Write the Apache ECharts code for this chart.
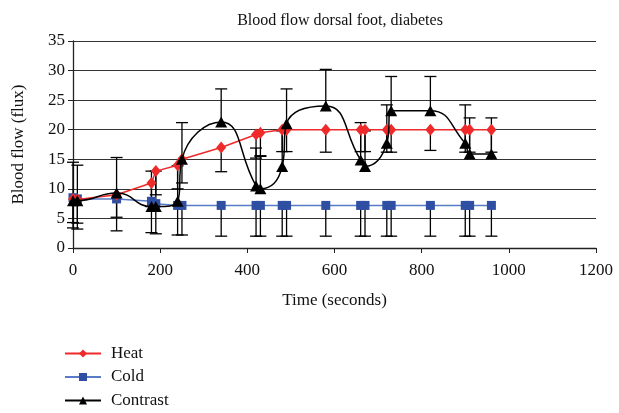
<!DOCTYPE html>
<html>
<head>
<meta charset="utf-8">
<script src="https://cdn.jsdelivr.net/npm/echarts@6/dist/echarts.min.js"></script>
<style>html,body{margin:0;padding:0;background:#fff;}#c{width:619px;height:413px;}</style>
</head>
<body>
<div id="c"></div>
<script>
var times    = [0, 10, 100, 180, 190, 240, 250, 340, 420, 430, 480, 490, 580, 660, 670, 720, 730, 820, 900, 910, 960];
var heat     = [8.3, 8.2, 9.0, 11.0, 13.0, 14.0, 15.0, 17.0, 19.2, 19.5, 20, 20, 20, 20, 20, 20, 20, 20, 20, 20, 20];
var cold     = [8.5, 8.3, 8.3, 7.9, 7.5, 7.2, 7.2, 7.2, 7.2, 7.2, 7.2, 7.2, 7.2, 7.2, 7.2, 7.2, 7.2, 7.2, 7.2, 7.2, 7.2];
var contrast = [8.0, 8.0, 9.3, 7.0, 7.0, 7.9, 15.0, 21.3, 10.5, 10.0, 13.8, 21.0, 24.0, 14.9, 13.8, 17.7, 23.2, 23.2, 17.7, 15.9, 15.9];
// error bar lengths (heat & cold: minus only, contrast: plus only)
var heatMinus     = [4.0, 4.0, 3.8, 4.0, 4.0, 4.0, 4.0, 4.1, 4.0, 4.0, 3.7, 3.7, 3.8, 3.7, 3.7, 3.8, 3.8, 3.5, 3.8, 3.8, 3.8];
var coldMinus     = [5.1, 5.1, 5.4, 5.3, 5.1, 5.0, 5.0, 5.2, 5.2, 5.2, 5.2, 5.2, 5.2, 5.2, 5.2, 5.2, 5.2, 5.2, 5.2, 5.2, 5.2];
var contrastPlus  = [6.5, 6.0, 6.0, 6.0, 6.0, 6.0, 6.2, 5.6, 6.4, 5.6, 6.0, 5.9, 6.2, 6.3, 6.0, 6.5, 5.8, 5.8, 6.5, 6.1, 6.1];
var xTicks = [0, 200, 400, 600, 800, 1000, 1200];
var yTicks = [0, 5, 10, 15, 20, 25, 30, 35];

var FONT = '"Liberation Serif", "DejaVu Serif", serif';

function pairs(vals){ return times.map(function(t,i){ return [t, vals[i]]; }); }
function errData(vals, errs, sign){
  return times.map(function(t,i){ return [t, vals[i], vals[i] + sign*errs[i]]; });
}
function errRender(params, api){
  var p0 = api.coord([api.value(0), api.value(1)]);
  var p1 = api.coord([api.value(0), api.value(2)]);
  var hw = 6;
  return {
    type: 'group',
    children: [
      {type:'line', shape:{x1:p0[0], y1:p0[1], x2:p1[0], y2:p1[1]}, style:{stroke:'#000', lineWidth:1.3}},
      {type:'line', shape:{x1:p1[0]-hw, y1:p1[1], x2:p1[0]+hw, y2:p1[1]}, style:{stroke:'#000', lineWidth:1.3}}
    ]
  };
}

var chart = echarts.init(document.getElementById('c'), null, {renderer:'canvas'});
chart.setOption({
  animation: false,
  backgroundColor: '#fff',
  title: {
    text: 'Blood flow dorsal foot, diabetes',
    left: 335, top: 8, textAlign: 'center',
    textStyle: {fontFamily: FONT, fontSize: 16, fontWeight: 'normal', color: '#111'}
  },
  legend: {
    orient: 'vertical', left: 64, top: 345, itemGap: 6.5, padding: 0, height: 80,
    itemWidth: 36, itemHeight: 10,
    data: ['Heat', 'Cold', 'Contrast'],
    textStyle: {fontFamily: FONT, fontSize: 17, color: '#111', padding: [0,0,0,5]}
  },
  grid: {left: 73, right: 23, top: 41, bottom: 165},
  xAxis: {
    type: 'value', min: 0, max: 1200, interval: 200,
    name: 'Time (seconds)', nameLocation: 'middle', nameGap: 44,
    nameTextStyle: {fontFamily: FONT, fontSize: 17, color: '#111'},
    axisLine: {lineStyle: {color: '#222', width: 1.3}},
    axisTick: {show: true, length: 5, lineStyle: {color: '#222'}},
    axisLabel: {fontFamily: FONT, fontSize: 17, color: '#111', margin: 14,
      formatter: function(v){ return xTicks.indexOf(v) >= 0 ? String(v) : ''; }},
    splitLine: {show: false}
  },
  yAxis: {
    type: 'value', min: 0, max: 35, interval: 5,
    name: 'Blood flow (flux)', nameLocation: 'middle', nameGap: 46,
    nameTextStyle: {fontFamily: FONT, fontSize: 17, color: '#111'},
    axisLine: {show: true, lineStyle: {color: '#222', width: 1.3}},
    axisTick: {show: true, length: 5, lineStyle: {color: '#222'}},
    axisLabel: {fontFamily: FONT, fontSize: 17, color: '#111', margin: 8,
      formatter: function(v){ return yTicks.indexOf(v) >= 0 ? String(v) : ''; }},
    splitLine: {show: true, lineStyle: {color: '#333', width: 1.2}}
  },
  series: [
    {type:'custom', name:'heatErr', renderItem: errRender, data: errData(heat, heatMinus, -1), z: 1, encode:{x:0, y:[1,2]}, silent:true},
    {type:'custom', name:'coldErr', renderItem: errRender, data: errData(cold, coldMinus, -1), z: 1, encode:{x:0, y:[1,2]}, silent:true},
    {type:'custom', name:'contrastErr', renderItem: errRender, data: errData(contrast, contrastPlus, 1), z: 1, encode:{x:0, y:[1,2]}, silent:true},
    {type:'line', name:'Cold', data: pairs(cold), symbol:'rect', symbolSize: 9,
      lineStyle:{color:'#5a7cc6', width:1.5}, itemStyle:{color:'#2f4fa3'}, z: 3},
    {type:'line', name:'Heat', data: pairs(heat), symbol:'diamond', symbolSize: [10,12],
      lineStyle:{color:'#ee2a2a', width:1.5}, itemStyle:{color:'#ee2a2a'}, z: 4},
    {type:'line', name:'Contrast', data: pairs(contrast), symbol:'triangle', symbolSize: [12,11],
      smooth: 0.5,
      lineStyle:{color:'#000', width:1.5}, itemStyle:{color:'#000'}, z: 5}
  ]
});
</script>
</body>
</html>
